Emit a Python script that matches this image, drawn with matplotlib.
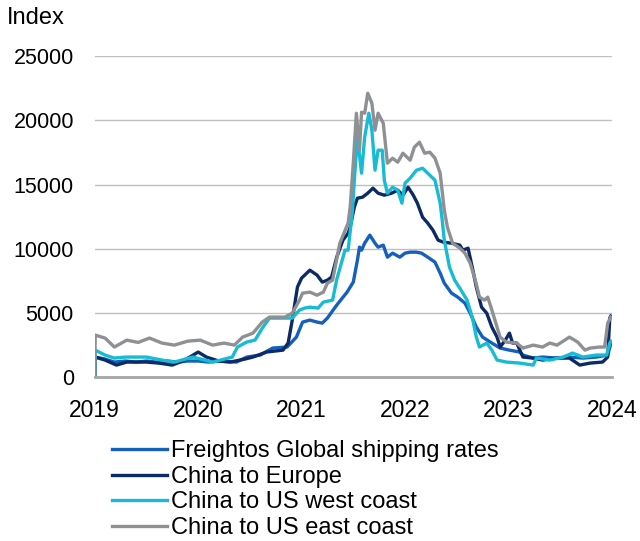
import matplotlib
matplotlib.use("Agg")
import matplotlib.pyplot as plt

plt.rcParams['font.family'] = ['Liberation Sans', 'DejaVu Sans']

# fractional years / index values
freightos_t = [2019.00, 2019.005, 2019.10, 2019.19, 2019.30, 2019.40, 2019.50, 2019.60, 2019.70, 2019.80,
               2019.90, 2020.00, 2020.10, 2020.20, 2020.37, 2020.47, 2020.60, 2020.72, 2020.86, 2020.95,
               2021.01, 2021.08, 2021.15, 2021.20, 2021.25, 2021.34, 2021.44, 2021.50, 2021.54, 2021.56,
               2021.58, 2021.61, 2021.66, 2021.71, 2021.74, 2021.79, 2021.83, 2021.88, 2021.95, 2022.00,
               2022.05, 2022.11, 2022.16, 2022.22, 2022.29, 2022.34, 2022.38, 2022.45, 2022.51, 2022.58,
               2022.63, 2022.69, 2022.75, 2022.84, 2022.92, 2023.01, 2023.11, 2023.14, 2023.24, 2023.33,
               2023.47, 2023.59, 2023.72, 2023.85, 2023.96, 2023.99]
freightos_v = [0, 1560, 1400, 1170, 1250, 1170, 1250, 1170, 1250, 1170,
               1250, 1250, 1170, 1250, 1170, 1560, 1715, 2260, 2340, 3115,
               4285, 4440, 4285, 4205, 4600, 5610, 6620, 7400, 9110, 10125,
               9890, 10435, 11060, 10435, 10125, 10280, 9345, 9655, 9345, 9655,
               9735, 9735, 9655, 9345, 8955, 8100, 7320, 6540, 6230, 5760,
               4985, 3895, 3115, 2650, 2260, 2100, 1950, 1715, 1480, 1560,
               1480, 1560, 1480, 1560, 1715, 2600]

europe_t = [2019.00, 2019.005, 2019.10, 2019.21, 2019.31, 2019.50, 2019.62, 2019.75, 2019.85, 2019.92,
            2020.00, 2020.08, 2020.20, 2020.31, 2020.45, 2020.53, 2020.66, 2020.82, 2020.87, 2020.91,
            2020.96, 2021.00, 2021.08, 2021.15, 2021.20, 2021.25, 2021.29, 2021.34, 2021.40, 2021.45,
            2021.47, 2021.51, 2021.54, 2021.59, 2021.64, 2021.69, 2021.74, 2021.80, 2021.87, 2021.93,
            2021.98, 2022.03, 2022.08, 2022.12, 2022.17, 2022.22, 2022.27, 2022.32, 2022.37, 2022.45,
            2022.53, 2022.56, 2022.61, 2022.65, 2022.69, 2022.74, 2022.79, 2022.84, 2022.89, 2022.92,
            2022.97, 2023.01, 2023.04, 2023.08, 2023.14, 2023.24, 2023.33, 2023.47, 2023.59, 2023.69,
            2023.79, 2023.91, 2023.96, 2023.98, 2023.99]
europe_v = [0, 1560, 1325, 935, 1170, 1170, 1090, 935, 1250, 1560,
            1950, 1560, 1250, 1170, 1400, 1560, 1950, 2100, 2650, 4440,
            7010, 7710, 8330, 7945, 7400, 7555, 7790, 9345, 10670, 11215,
            11680, 13240, 13940, 14020, 14330, 14720, 14330, 14175, 14330, 14565,
            14175, 14795, 14175, 13550, 12460, 11995, 11450, 10670, 10515, 10435,
            10280, 9890, 10045, 8570, 7010, 5450, 4985, 3895, 3115, 2340,
            2880, 3425, 2650, 2650, 1560, 1480, 1325, 1480, 1480, 935,
            1090, 1170, 1560, 4600, 4750]

west_t = [2019.00, 2019.005, 2019.10, 2019.19, 2019.30, 2019.50, 2019.65, 2019.77, 2019.95, 2020.14,
          2020.33, 2020.38, 2020.47, 2020.55, 2020.62, 2020.69, 2020.91, 2020.98, 2021.03, 2021.08,
          2021.16, 2021.21, 2021.30, 2021.34, 2021.42, 2021.45, 2021.49, 2021.51, 2021.54, 2021.58,
          2021.61, 2021.65, 2021.68, 2021.71, 2021.74, 2021.78, 2021.80, 2021.83, 2021.88, 2021.93,
          2021.97, 2022.00, 2022.05, 2022.11, 2022.17, 2022.24, 2022.29, 2022.34, 2022.36, 2022.38,
          2022.43, 2022.48, 2022.53, 2022.60, 2022.65, 2022.69, 2022.72, 2022.79, 2022.84, 2022.89,
          2022.98, 2023.11, 2023.24, 2023.27, 2023.40, 2023.53, 2023.62, 2023.72, 2023.85, 2023.95,
          2023.98, 2023.99]
west_v = [0, 2100, 1715, 1480, 1560, 1560, 1325, 1170, 1560, 1170,
          1560, 2340, 2730, 2880, 3815, 4595, 4595, 5220, 5375, 5450,
          5375, 5840, 6000, 7600, 9890, 9890, 12770, 15340, 18690, 15890,
          18690, 20560, 19235, 16120, 17680, 17680, 15340, 14330, 14795, 14565,
          13550, 15110, 15500, 16120, 16275, 15730, 15340, 13550, 12225, 10670,
          8570, 7555, 6930, 6000, 4675, 3115, 2340, 2650, 2100, 1325,
          1170, 1090, 935, 1480, 1325, 1560, 1870, 1560, 1715, 1715,
          2650, 2800]

east_t = [2019.00, 2019.005, 2019.10, 2019.19, 2019.31, 2019.42, 2019.53, 2019.65, 2019.77, 2019.90,
          2020.02, 2020.14, 2020.25, 2020.35, 2020.43, 2020.53, 2020.62, 2020.69, 2020.84, 2020.91,
          2020.98, 2021.01, 2021.08, 2021.15, 2021.21, 2021.25, 2021.30, 2021.37, 2021.45, 2021.47,
          2021.50, 2021.53, 2021.56, 2021.58, 2021.61, 2021.64, 2021.68, 2021.71, 2021.74, 2021.79,
          2021.83, 2021.88, 2021.93, 2021.98, 2022.05, 2022.09, 2022.14, 2022.19, 2022.24, 2022.29,
          2022.34, 2022.38, 2022.41, 2022.46, 2022.53, 2022.58, 2022.63, 2022.68, 2022.72, 2022.77,
          2022.80, 2022.84, 2022.89, 2022.92, 2022.98, 2023.08, 2023.14, 2023.24, 2023.33, 2023.40,
          2023.47, 2023.59, 2023.67, 2023.74, 2023.79, 2023.88, 2023.93, 2023.96, 2023.99]
east_v = [0, 3270, 3040, 2340, 2880, 2700, 3040, 2650, 2490, 2800,
          2880, 2490, 2650, 2490, 3115, 3425, 4285, 4675, 4675, 4985,
          6000, 6540, 6620, 6380, 6620, 7320, 7555, 10435, 12000, 13240,
          16665, 20560, 17680, 20640, 20560, 22120, 21340, 19235, 20560, 19780,
          16665, 17055, 16745, 17445, 16900, 17910, 18300, 17445, 17525, 17055,
          15890, 13005, 11680, 10435, 10045, 9655, 8880, 7555, 6230, 6000,
          6230, 5220, 3895, 3115, 2725, 2650, 2260, 2490, 2340, 2650,
          2490, 3115, 2725, 2100, 2260, 2340, 2340, 4205, 4675]

labels = ["Freightos Global shipping rates", "China to Europe",
          "China to US west coast", "China to US east coast"]
colors = ["#1560BD", "#0B2A66", "#17BCD4", "#8E9093"]
years = [2019, 2020, 2021, 2022, 2023, 2024]

fig = plt.figure(figsize=(6.4, 5.41), dpi=100)
ax = fig.add_axes([0.148, 0.303, 0.808, 0.593])

series = [(freightos_t, freightos_v), (europe_t, europe_v), (west_t, west_v), (east_t, east_v)]
for (t, v), lab, c in zip(series, labels, colors):
    ax.plot(t, v, color=c, lw=2.4, label=lab)

ax.set_xlim(2019, 2024)
ax.set_ylim(0, 25000)
ax.set_yticks(range(0, 25001, 5000))
ax.set_xticks(years)
ax.set_xticklabels([str(y) for y in years])
ax.grid(axis='y', color='#BFBFBF', lw=1)
ax.set_axisbelow(True)
for s in ['top', 'right', 'left']:
    ax.spines[s].set_visible(False)
ax.spines['bottom'].set_color('#A6A6A6')
ax.spines['bottom'].set_linewidth(2)
ax.tick_params(length=0)
ax.tick_params(axis='y', pad=15, labelsize=15.5)
ax.tick_params(axis='x', pad=16, labelsize=16.5)

fig.text(0.011, 0.966, "Index", fontsize=17, va='center', ha='left')

fig.legend(loc='upper left', bbox_to_anchor=(0.175, 0.186), frameon=False, fontsize=17,
           handlelength=2.33, handletextpad=0.17, labelspacing=0.15, borderpad=0, borderaxespad=0)

fig.savefig("out.png", dpi=100)
